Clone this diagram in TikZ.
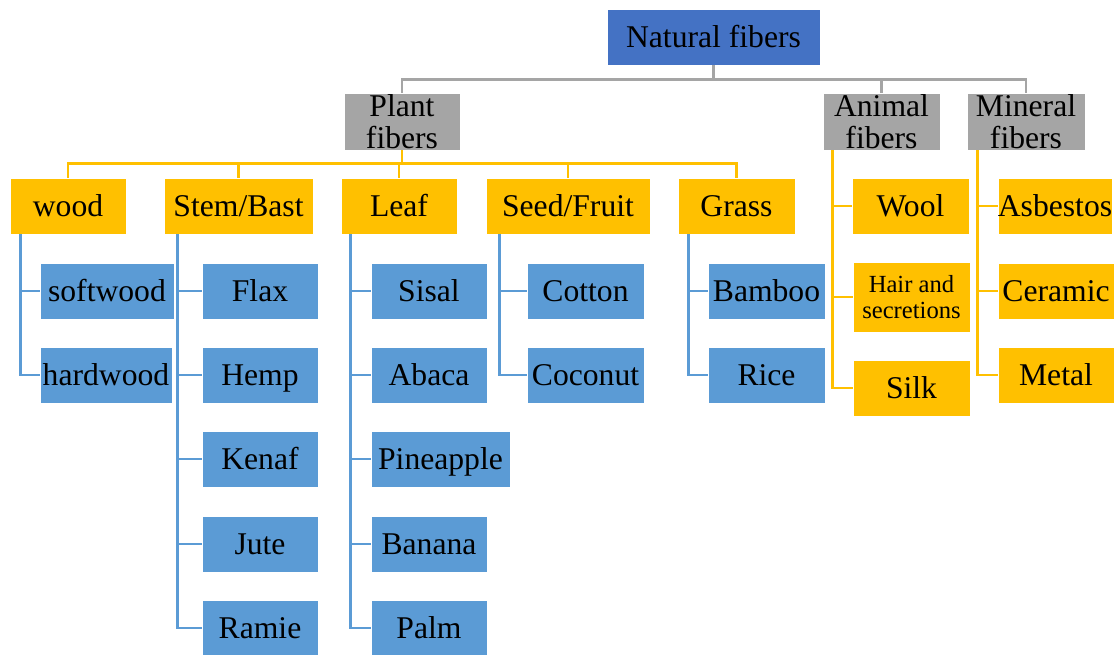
\documentclass[tikz,border=0pt]{standalone}
\usepackage{fontspec}
\setmainfont{Liberation Serif}
\usepackage{tikz}
\definecolor{topblue}{HTML}{4472C4}
\definecolor{boxgray}{HTML}{A5A5A5}
\definecolor{boxgold}{HTML}{FFC000}
\definecolor{boxblue}{HTML}{5B9BD5}

\begin{document}
\begin{tikzpicture}[
  x=0.025cm, y=-0.025cm,
  box/.style={inner sep=0pt, minimum height=1.4cm, align=center, draw=white, thin,
    font=\fontsize{22.5}{23}\selectfont},
  oneline/.style={text height=14.5pt, text depth=0pt},
  rootbox/.style={box, oneline, fill=topblue},
  groupbox/.style={box, fill=boxgray, minimum height=1.425cm},
  typebox/.style={box, oneline, fill=boxgold},
  fiberbox/.style={box, oneline, fill=boxblue},
  grayline/.style={draw=boxgray, line width=2.1pt},
  goldline/.style={draw=boxgold, line width=2.1pt},
  blueline/.style={draw=boxblue, line width=2.1pt}
]
\useasboundingbox (0,0) rectangle (1119,655);

\node[rootbox, minimum width=5.325cm] (nat) at (713.5,37) {Natural fibers};

\node[groupbox, minimum width=2.9cm]   (plant)   at (402,121.5)  {Plant\\fibers};
\node[groupbox, minimum width=2.925cm] (animal)  at (881.5,121.5) {Animal\\fibers};
\node[groupbox, minimum width=2.95cm]  (mineral) at (1026,121.5) {Mineral\\fibers};

\node[typebox, minimum width=2.9cm]   (wood)  at (68,206)    {wood};
\node[typebox, minimum width=3.725cm] (stem)  at (238.5,206) {Stem/Bast};
\node[typebox, minimum width=2.9cm]   (leaf)  at (399,206)   {Leaf};
\node[typebox, minimum width=4.1cm]   (seed)  at (568,206)   {Seed/Fruit};
\node[typebox, minimum width=2.925cm] (grass) at (736.5,206) {Grass};

% wood
\node[fiberbox, minimum width=3.35cm] (soft) at (107,291) {softwood};
\node[fiberbox, minimum width=3.3cm]  (hard) at (106,375) {hardwood};

% stem / bast
\node[fiberbox, minimum width=2.9cm] (flax)  at (260,291) {Flax};
\node[fiberbox, minimum width=2.9cm] (hemp)  at (260,375) {Hemp};
\node[fiberbox, minimum width=2.9cm] (kenaf) at (260,459) {Kenaf};
\node[fiberbox, minimum width=2.9cm] (jute)  at (260,544) {Jute};
\node[fiberbox, minimum width=2.9cm] (ramie) at (260,628) {Ramie};

% leaf
\node[fiberbox, minimum width=2.9cm]   (sisal)  at (429,291)   {Sisal};
\node[fiberbox, minimum width=2.9cm]   (abaca)  at (429,375)   {Abaca};
\node[fiberbox, minimum width=3.475cm] (pine)   at (440.5,459) {Pineapple};
\node[fiberbox, minimum width=2.9cm]   (banana) at (429,544)   {Banana};
\node[fiberbox, minimum width=2.9cm]   (palm)   at (429,628)   {Palm};

% seed / fruit
\node[fiberbox, minimum width=2.925cm] (cotton)  at (585.5,291) {Cotton};
\node[fiberbox, minimum width=2.925cm] (coconut) at (585.5,375) {Coconut};

% grass
\node[fiberbox, minimum width=2.925cm] (bamboo) at (766.5,291) {Bamboo};
\node[fiberbox, minimum width=2.925cm] (rice)   at (766.5,375) {Rice};

% animal
\node[typebox, minimum width=2.925cm] (wool) at (910.5,206) {Wool};
\node[box, fill=boxgold, minimum width=2.925cm, minimum height=1.75cm,
  font=\fontsize{17.5}{19}\selectfont] (hair) at (911.5,297) {Hair and\\secretions};
\node[typebox, minimum width=2.925cm] (silk) at (911.5,388) {Silk};

% mineral
\node[typebox, minimum width=2.85cm] (asb)   at (1055,206) {Asbestos};
\node[typebox, minimum width=2.9cm]  (cera)  at (1056,291) {Ceramic};
\node[typebox, minimum width=2.9cm]  (metal) at (1056,375) {Metal};

% top level
\draw[grayline] (nat.south) -- ++(0,14) -| (plant.north);
\draw[grayline] (nat.south) -- ++(0,14) -| (animal.north);
\draw[grayline] (nat.south) -- ++(0,14) -| (mineral.north);

% plant types
\draw[goldline] (plant.south) -- ++(0,13) -| (wood.north);
\draw[goldline] (plant.south) -- ++(0,13) -| (stem.north);
\draw[goldline] (plant.south) -- ++(0,13) -| (leaf.north);
\draw[goldline] (plant.south) -- ++(0,13) -| (seed.north);
\draw[goldline] (plant.south) -- ++(0,13) -| (grass.north);

% fibers
\draw[blueline] ([xshift=0.275cm]wood.south west) |- (soft.west);
\draw[blueline] ([xshift=0.275cm]wood.south west) |- (hard.west);
\foreach \f in {flax,hemp,kenaf,jute,ramie}
  \draw[blueline] ([xshift=0.35cm]stem.south west) |- (\f.west);
\foreach \f in {sisal,abaca,pine,banana,palm}
  \draw[blueline] ([xshift=0.25cm]leaf.south west) |- (\f.west);
\draw[blueline] ([xshift=0.35cm]seed.south west) |- (cotton.west);
\draw[blueline] ([xshift=0.35cm]seed.south west) |- (coconut.west);
\draw[blueline] ([xshift=0.275cm]grass.south west) |- (bamboo.west);
\draw[blueline] ([xshift=0.275cm]grass.south west) |- (rice.west);

\foreach \f in {wool,hair,silk}
  \draw[goldline] ([xshift=0.25cm]animal.south west) |- (\f.west);
\foreach \f in {asb,cera,metal}
  \draw[goldline] ([xshift=0.275cm]mineral.south west) |- (\f.west);

\end{tikzpicture}
\end{document}
